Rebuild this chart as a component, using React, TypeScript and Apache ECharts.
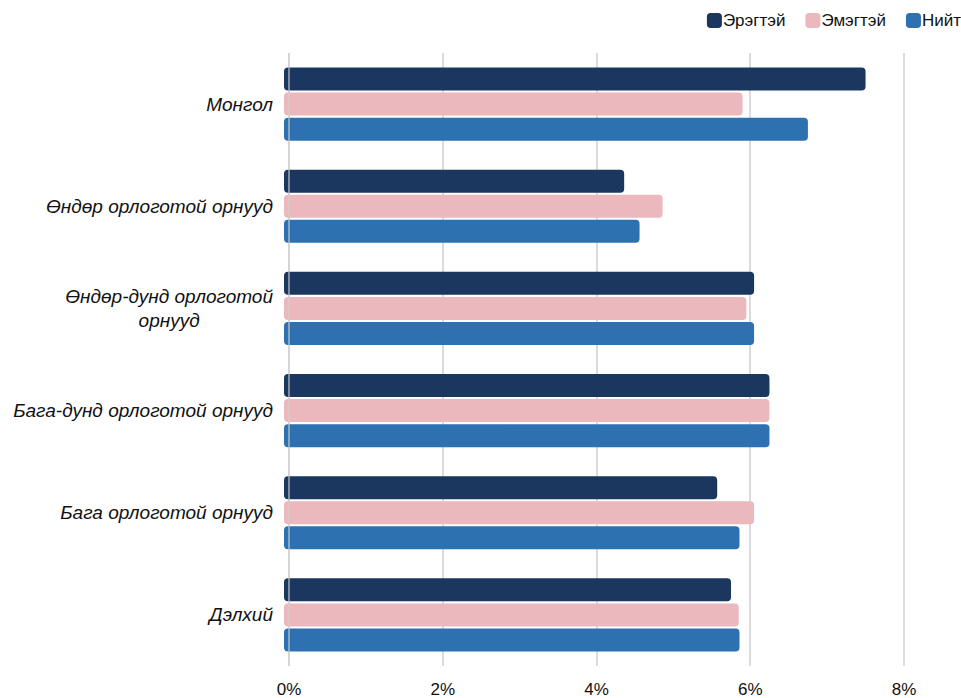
import React, { useEffect, useRef } from "react";
import * as echarts from "echarts";

const categories = [
  "Монгол",
  "Өндөр орлоготой орнууд",
  "Өндөр-дунд орлоготой орнууд",
  "Бага-дунд орлоготой орнууд",
  "Бага орлоготой орнууд",
  "Дэлхий",
];
const seriesNames = ["Эрэгтэй", "Эмэгтэй", "Нийт"];
const maleValues = [7.5, 4.36, 6.05, 6.25, 5.57, 5.75];
const femaleValues = [5.9, 4.86, 5.95, 6.25, 6.05, 5.85];
const totalValues = [6.75, 4.56, 6.05, 6.25, 5.86, 5.86];
const tickValues = [0, 2, 4, 6, 8];
const colors = ["#1B365F", "#EBB8BD", "#2E71B0"];

export default function App() {
  const ref = useRef<HTMLDivElement>(null);
  useEffect(() => {
    if (!ref.current) return;
    const chart = echarts.init(ref.current, undefined, { renderer: "svg" });
    const values = [maleValues, femaleValues, totalValues];
    chart.setOption({
      animation: false,
      backgroundColor: "#ffffff",
      legend: {
        right: -5,
        top: 7,
        icon: "roundRect",
        itemWidth: 15,
        itemHeight: 15,
        itemGap: 20,
        textStyle: { fontFamily: "Liberation Sans, Arial, sans-serif", fontSize: 17, color: "#111", padding: [0, 0, 0, -4] },
        data: seriesNames,
      },
      grid: { left: 284, right: 57, top: 53, bottom: 30, containLabel: false },
      xAxis: {
        type: "value",
        min: -0.065,
        max: 8,
        startValue: -0.065,
        axisLine: { show: false },
        axisTick: { show: false, customValues: tickValues },
        splitLine: { show: true, lineStyle: { color: "#cfcfcf", width: 1.5 } },
        axisLabel: {
          customValues: tickValues,
          formatter: (v: number) => `${Math.round(v)}%`,
          fontFamily: "Liberation Sans Narrow, Arial Narrow, Liberation Sans, sans-serif",
          fontSize: 17,
          color: "#111",
          margin: 15,
        },
      },
      yAxis: {
        type: "category",
        inverse: true,
        data: categories,
        axisLine: { show: false },
        axisTick: { show: false },
        axisLabel: {
          margin: 11,
          fontFamily: "Liberation Sans, Arial, sans-serif",
          fontStyle: "italic",
          fontSize: 19,
          color: "#111",
          formatter: (v: string) =>
            v === "Өндөр-дунд орлоготой орнууд" ? "{c|Өндөр-дунд орлоготой}\n{c|орнууд}" : v,
          rich: {
            c: {
              align: "center",
              fontFamily: "Liberation Sans, Arial, sans-serif",
              fontStyle: "italic",
              fontSize: 19,
              color: "#111",
              lineHeight: 24,
            },
          },
        },
      },
      series: seriesNames.map((name, i) => ({
        name,
        type: "bar",
        data: values[i],
        barWidth: 23,
        barGap: "9%",
        itemStyle: { color: colors[i], borderRadius: 4 },
        markLine:
          i === seriesNames.length - 1
            ? {
                silent: true,
                symbol: "none",
                label: { show: false },
                lineStyle: { type: "solid", color: "rgba(210,210,210,0.75)", width: 1.5 },
                data: [{ xAxis: 0 }],
              }
            : undefined,
      })),
    });
    return () => chart.dispose();
  }, []);
  return <div ref={ref} style={{ position: "fixed", left: 0, top: 0, width: 961, height: 698 }} />;
}
